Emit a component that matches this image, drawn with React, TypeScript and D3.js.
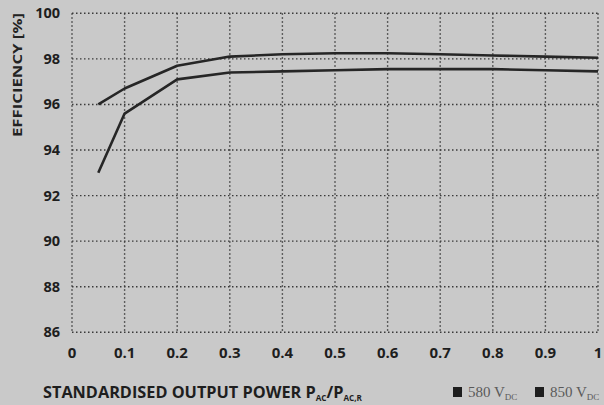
import { useEffect, useRef } from "react";
import * as d3 from "d3";

// load points (P_AC / P_AC,R)
const loads = [0.05, 0.1, 0.2, 0.3, 0.4, 0.5, 0.6, 0.7, 0.8, 0.9, 1.0];
// efficiency in %
const effUpper = [96.0, 96.7, 97.7, 98.1, 98.2, 98.25, 98.25, 98.2, 98.15, 98.1, 98.05];
const effLower = [93.0, 95.6, 97.1, 97.4, 97.45, 97.5, 97.55, 97.55, 97.55, 97.5, 97.45];

const xTicks = [0, 0.1, 0.2, 0.3, 0.4, 0.5, 0.6, 0.7, 0.8, 0.9, 1];
const yTicks = [86, 88, 90, 92, 94, 96, 98, 100];
const legendItems = ["580", "850"];

export default function App() {
  const ref = useRef<SVGSVGElement>(null);

  useEffect(() => {
    const width = 604,
      height = 405;
    const left = 72,
      right = 598,
      top = 13.3,
      bottom = 332.3;

    const svg = d3.select(ref.current);
    svg.selectAll("*").remove();
    svg.attr("width", width).attr("height", height);

    svg.append("rect").attr("width", width).attr("height", height).attr("fill", "#c9c9c9");

    const x = d3.scaleLinear().domain([0, 1]).range([left, right]);
    const y = d3.scaleLinear().domain([86, 100]).range([bottom, top]);

    const font = "'Open Sans', 'DejaVu Sans', sans-serif";
    const grid = "#3a3a3a";

    // dotted grid
    svg
      .append("g")
      .selectAll("line")
      .data(xTicks)
      .join("line")
      .attr("x1", (d) => x(d))
      .attr("x2", (d) => x(d))
      .attr("y1", top)
      .attr("y2", bottom)
      .attr("stroke", grid)
      .attr("stroke-width", 1.4)
      .attr("stroke-dasharray", "1.5 2.5");

    svg
      .append("g")
      .selectAll("line")
      .data(yTicks)
      .join("line")
      .attr("x1", left)
      .attr("x2", right)
      .attr("y1", (d) => y(d))
      .attr("y2", (d) => y(d))
      .attr("stroke", grid)
      .attr("stroke-width", 1.4)
      .attr("stroke-dasharray", "1.5 2.5");

    // y tick labels
    svg
      .append("g")
      .selectAll("text")
      .data(yTicks)
      .join("text")
      .attr("x", 60)
      .attr("y", (d) => y(d) + 5)
      .attr("text-anchor", "end")
      .style("font-family", font)
      .style("font-weight", "bold")
      .style("font-size", "14.5px")
      .style("fill", "#1e1e1e")
      .text((d) => d);

    // x tick labels
    svg
      .append("g")
      .selectAll("text")
      .data(xTicks)
      .join("text")
      .attr("x", (d) => x(d))
      .attr("y", 358)
      .attr("text-anchor", "middle")
      .style("font-family", font)
      .style("font-weight", "bold")
      .style("font-size", "15px")
      .style("fill", "#1e1e1e")
      .text((d) => d3.format("~g")(d));

    // axis titles
    svg
      .append("text")
      .attr("transform", "translate(22,75) rotate(-90)")
      .attr("text-anchor", "middle")
      .attr("textLength", 124)
      .attr("lengthAdjust", "spacingAndGlyphs")
      .style("font-family", font)
      .style("font-weight", "bold")
      .style("font-size", "12.5px")
      .style("fill", "#222")
      .text("EFFICIENCY [%]");

    const xt = svg
      .append("text")
      .attr("x", 43)
      .attr("y", 398)
      .attr("textLength", 319)
      .attr("lengthAdjust", "spacingAndGlyphs")
      .style("font-family", font)
      .style("font-weight", "bold")
      .style("font-size", "16px")
      .style("fill", "#1e1e1e");
    xt.append("tspan").text("STANDARDISED OUTPUT POWER P");
    xt.append("tspan").attr("dy", 3).style("font-size", "8px").text("AC");
    xt.append("tspan").attr("dy", -3).text("/P");
    xt.append("tspan").attr("dy", 3).style("font-size", "8px").text("AC,R");

    // curves
    const line = d3
      .line<[number, number]>()
      .x((d) => x(d[0]))
      .y((d) => y(d[1]));

    [effUpper, effLower].forEach((s) => {
      svg
        .append("path")
        .datum(loads.map((l, i) => [l, s[i]] as [number, number]))
        .attr("fill", "none")
        .attr("stroke", "#262626")
        .attr("stroke-width", 2.6)
        .attr("stroke-linejoin", "round")
        .attr("d", line);
    });

    // legend
    const lg = svg
      .append("g")
      .selectAll("g")
      .data(legendItems)
      .join("g")
      .attr("transform", (d, i) => `translate(${453 + i * 82},387)`);
    lg.append("rect").attr("width", 9).attr("height", 10).attr("fill", "#1e1e1e");
    const lt = lg
      .append("text")
      .attr("x", 15)
      .attr("y", 10)
      .style("font-family", "'Liberation Serif', 'DejaVu Serif', serif")
      .style("font-size", "15px")
      .style("fill", "#5a5a5a");
    lt.append("tspan").text((d) => `${d} V`);
    lt.append("tspan").attr("dy", 3).style("font-size", "9px").style("fill", "#5a5a5a").text("DC");
  }, []);

  return <svg ref={ref} style={{ position: "absolute", left: 0, top: 0 }} />;
}
